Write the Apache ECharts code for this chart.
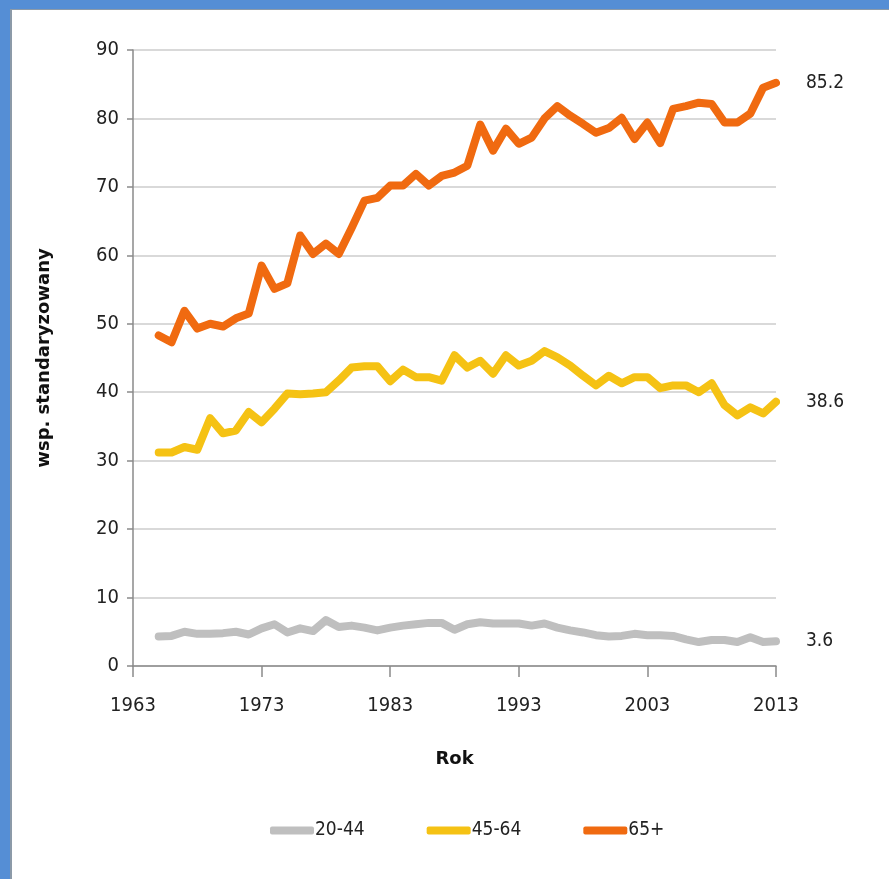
<!DOCTYPE html>
<html>
<head>
<meta charset="utf-8">
<script src="https://cdn.jsdelivr.net/npm/echarts@6/dist/echarts.min.js"></script>
<style>
  html, body { margin: 0; padding: 0; width: 889px; height: 879px; background: #558ed5; overflow: hidden; }
  #panel {
    position: absolute; left: 10px; top: 9px; width: 879px; height: 870px;
    background: #ffffff; border-left: 2px solid #8c9aa8; border-top: 1px solid #8c9aa8; box-sizing: border-box;
  }
  #chart { width: 100%; height: 100%; }
</style>
</head>
<body>
<div id="panel"><div id="chart"></div></div>
<script>
// Years covered by the series
const years = [1965,1966,1967,1968,1969,1970,1971,1972,1973,1974,1975,1976,1977,1978,1979,
  1980,1981,1982,1983,1984,1985,1986,1987,1988,1989,1990,1991,1992,1993,1994,1995,1996,1997,
  1998,1999,2000,2001,2002,2003,2004,2005,2006,2007,2008,2009,2010,2011,2012,2013];

// Standardised rates per age group
const age20_44 = [4.3,4.4,5.0,4.7,4.7,4.8,5.0,4.6,5.5,6.1,4.9,5.5,5.1,6.7,5.7,
  5.9,5.6,5.2,5.6,5.9,6.1,6.3,6.3,5.3,6.1,6.4,6.2,6.2,6.2,5.9,6.2,5.6,5.2,
  4.9,4.5,4.3,4.4,4.7,4.5,4.5,4.4,3.9,3.5,3.8,3.8,3.5,4.2,3.5,3.6];

const age45_64 = [31.2,31.2,32.0,31.6,36.2,34.0,34.4,37.1,35.6,37.6,39.8,39.7,39.8,40.0,41.7,
  43.6,43.8,43.8,41.6,43.3,42.2,42.2,41.7,45.4,43.6,44.6,42.7,45.4,43.9,44.6,46.0,45.1,43.9,
  42.4,41.0,42.4,41.3,42.2,42.2,40.6,41.0,41.0,40.0,41.3,38.1,36.6,37.8,36.9,38.6];

const age65plus = [48.3,47.3,51.9,49.3,50.0,49.6,50.8,51.5,58.5,55.1,55.9,62.9,60.2,61.7,60.2,
  64.0,68.0,68.4,70.2,70.2,71.9,70.2,71.6,72.1,73.1,79.1,75.3,78.5,76.3,77.2,80.0,81.8,80.4,
  79.2,77.9,78.6,80.1,77.0,79.4,76.4,81.4,81.8,82.3,82.1,79.4,79.4,80.7,84.5,85.2];

const seriesNames = ['20-44', '45-64', '65+'];
const seriesColors = ['#bfbfbf', '#f5c214', '#f06a10'];
const seriesValues = [age20_44, age45_64, age65plus];

const xTicks = { min: 1963, max: 2013, step: 10 };
const yTicks = { min: 0, max: 90, step: 10 };

const labelFont = '"Liberation Sans Narrow", "DejaVu Sans Condensed", sans-serif';

const chart = echarts.init(document.getElementById('chart'), null, { renderer: 'canvas' });

const series = seriesValues.map((vals, i) => ({
  name: seriesNames[i],
  type: 'line',
  data: years.map((y, k) => [y, vals[k]]),
  showSymbol: false,
  symbol: 'none',
  lineStyle: { width: 8, color: seriesColors[i], cap: 'round', join: 'round' },
  itemStyle: { color: seriesColors[i] },
  z: 2 + i,
  endLabel: {
    show: true,
    distance: 30,
    formatter: p => p.value[1].toFixed(1),
    fontFamily: labelFont,
    fontSize: 19,
    color: '#222'
  },
  emphasis: { disabled: true }
}));

chart.setOption({
  animation: false,
  backgroundColor: 'transparent',
  grid: { left: 121, right: 113, top: 40, bottom: 213, containLabel: false },
  legend: {
    data: seriesNames,
    left: 253,
    top: 806,
    itemWidth: 44,
    itemHeight: 8,
    itemGap: 62,
    icon: 'roundRect',
    textStyle: { fontFamily: labelFont, fontSize: 19, color: '#222', padding: [0, 0, 0, -4] }
  },
  xAxis: {
    type: 'value',
    min: xTicks.min,
    max: xTicks.max,
    interval: xTicks.step,
    name: 'Rok',
    nameLocation: 'middle',
    nameGap: 84,
    nameTextStyle: { fontFamily: '"DejaVu Sans", sans-serif', fontWeight: 'bold', fontSize: 18, color: '#111' },
    axisLine: { show: true, lineStyle: { color: '#8a8a8a', width: 1.5 } },
    axisTick: { show: true, inside: false, length: 11, lineStyle: { color: '#8a8a8a', width: 1.5 } },
    axisLabel: { fontFamily: labelFont, fontSize: 20, color: '#222', margin: 30, formatter: v => String(v) },
    splitLine: { show: false }
  },
  yAxis: {
    type: 'value',
    min: yTicks.min,
    max: yTicks.max,
    interval: yTicks.step,
    name: 'wsp. standaryzowany',
    nameLocation: 'middle',
    nameGap: 80,
    nameRotate: 90,
    nameTextStyle: { fontFamily: '"DejaVu Sans", sans-serif', fontWeight: 'bold', fontSize: 18, color: '#111' },
    axisLine: { show: true, lineStyle: { color: '#8a8a8a', width: 1.5 } },
    axisTick: { show: true, inside: false, length: 6, lineStyle: { color: '#8a8a8a', width: 1.5 } },
    axisLabel: { fontFamily: labelFont, fontSize: 20, color: '#222', margin: 14 },
    splitLine: { show: true, lineStyle: { color: '#d9d9d9', width: 2 } }
  },
  series: series
});
</script>
</body>
</html>
